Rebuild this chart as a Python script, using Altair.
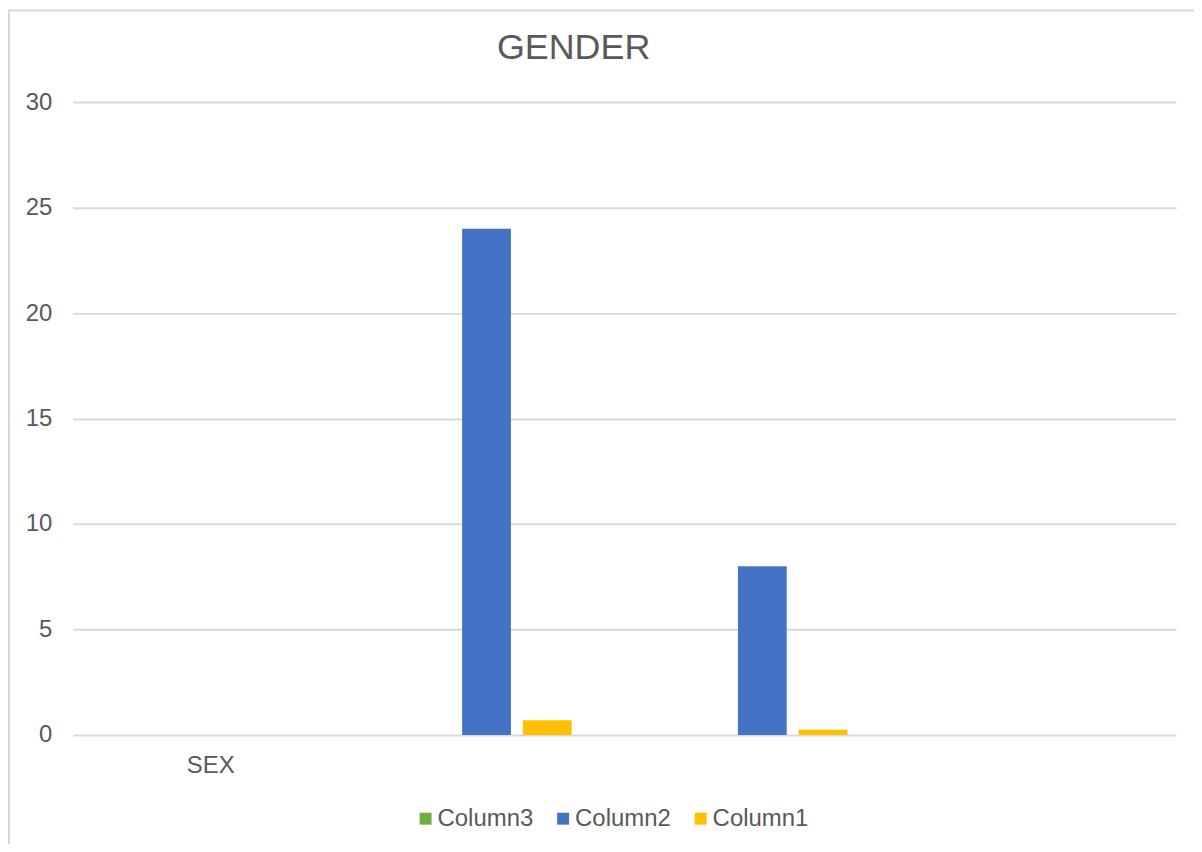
import altair as alt
import pandas as pd

categories = ["SEX", "cat2", "cat3", "cat4"]
category_labels = ["SEX", "", "", ""]
series = ["Column3", "Column2", "Column1"]
column3 = [0, 0, 0, 0]
column2 = [0, 24, 8, 0]
column1 = [0, 0.7, 0.25, 0]
colors = ["#70AD47", "#4472C4", "#FFC000"]
y_ticks = [0, 5, 10, 15, 20, 25, 30]

rows = []
for s, vals in zip(series, [column3, column2, column1]):
    for c, v in zip(categories, vals):
        rows.append({"category": c, "series": s, "value": v})
df = pd.DataFrame(rows)

label_expr = "''"
for c, l in reversed(list(zip(categories, category_labels))):
    label_expr = f"datum.value == '{c}' ? '{l}' : ({label_expr})"

FONT = "Liberation Sans"
TXT = "#595959"
GRID = "#d9d9d9"

bars = alt.Chart(df).mark_bar().encode(
    x=alt.X(
        "category:N",
        sort=categories,
        scale=alt.Scale(paddingInner=0, paddingOuter=0),
        axis=alt.Axis(
            title=None, labelExpr=label_expr, labelAngle=0, ticks=False,
            domain=False, grid=False, labelFontSize=24, labelColor=TXT,
            labelFont=FONT, labelPadding=19,
        ),
    ),
    xOffset=alt.XOffset(
        "series:N", sort=series,
        scale=alt.Scale(paddingInner=0.197, paddingOuter=0.869),
    ),
    y=alt.Y(
        "value:Q",
        scale=alt.Scale(domain=[0, 30], nice=False),
        axis=alt.Axis(
            title=None, values=y_ticks, ticks=False, domain=False,
            gridColor=GRID, gridWidth=2, labelFontSize=24, labelColor=TXT,
            labelFont=FONT, labelPadding=21,
        ),
    ),
    color=alt.Color(
        "series:N",
        sort=series,
        scale=alt.Scale(domain=series, range=colors),
        legend=alt.Legend(
            title=None, orient="none", direction="horizontal",
            legendX=342, legendY=707, symbolType="square", symbolSize=144,
            symbolStrokeWidth=0, labelFontSize=24, labelColor=TXT,
            labelFont=FONT, labelOffset=0, columnPadding=17, padding=0,
        ),
    ),
)

border_src = pd.DataFrame({"k": [0]})
left_border = alt.Chart(border_src).mark_rule(color=GRID, strokeWidth=2).encode(
    x=alt.value(-64), y=alt.value(-93), y2=alt.value(760)
)
top_border = alt.Chart(border_src).mark_rule(color=GRID, strokeWidth=2).encode(
    x=alt.value(-65), x2=alt.value(1140), y=alt.value(-92)
)

chart = alt.layer(bars, left_border, top_border).properties(
    width=1107,
    height=635,
    title=alt.TitleParams(
        "GENDER", font=FONT, fontSize=36, fontWeight="normal", color=TXT,
        anchor="middle", dx=-51, baseline="alphabetic", offset=-87,
    ),
    autosize=alt.AutoSizeParams(type="none"),
    padding={"left": 65, "top": 93, "right": 18, "bottom": 108},
).configure_view(stroke=None)

chart.save("out.html", embed_options={"renderer": "svg", "actions": False})
